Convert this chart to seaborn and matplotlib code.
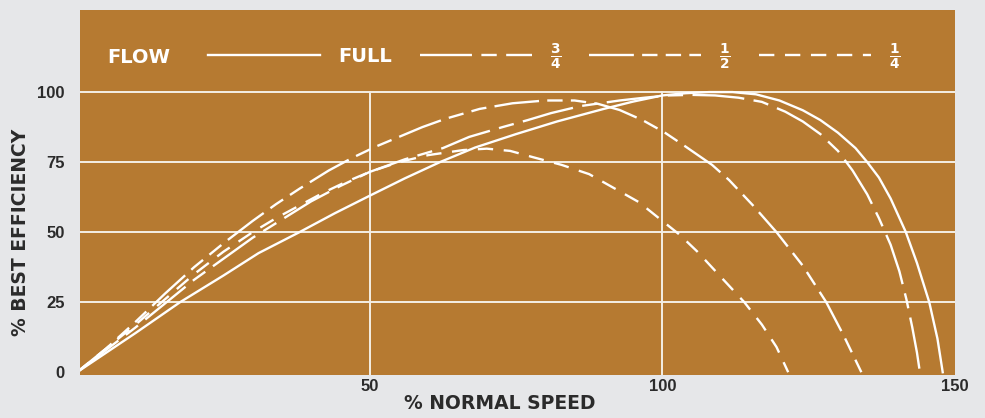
import matplotlib
matplotlib.use('Agg')
import matplotlib.pyplot as plt
from matplotlib.lines import Line2D
import pandas as pd
import seaborn as sns

# %%
# curve data (% normal speed vs % best efficiency)

flows = ['full', '3/4', '1/2', '1/4']
flow_labels = ['FULL', r'$\frac{\mathbf{3}}{\mathbf{4}}$',
               r'$\frac{\mathbf{1}}{\mathbf{2}}$', r'$\frac{\mathbf{1}}{\mathbf{4}}$']

full_x = [0, 5, 10, 17.6, 25, 31, 38, 44, 50, 56, 62, 68, 75, 82, 90, 95, 100, 104,
          108, 112, 116, 120, 124, 127, 130, 133, 135, 137, 139, 141.6, 143.5, 145.6,
          147, 147.9]
full_y = [0, 7, 14, 25, 34.5, 42.5, 50, 56.7, 63, 69.2, 75, 80.2, 85, 89.5, 94, 96.6,
          98.8, 99.6, 100, 100, 99.2, 97, 93.5, 90, 85.5, 80, 75, 69.5, 62, 50, 39, 25,
          12, 0]

q3_x = [0, 5, 10, 15, 20, 25, 30, 35, 40, 45, 50, 56, 62.5, 67, 72.7, 77, 81, 86, 92.7,
        97, 101, 105, 109, 113, 117, 121, 124, 127, 130, 132.5, 135, 137, 139, 140.5,
        141.7, 142.7, 143.5, 144]
q3_y = [0, 8, 16, 24.5, 33, 40.5, 48, 54.5, 61, 66.5, 71.5, 76, 80, 84, 87.5, 90, 92.5,
        95, 97, 98, 98.8, 99, 98.8, 98, 96.5, 93, 89.5, 85, 79, 72, 63.5, 55, 45.5, 36,
        26, 16, 7, 0]

half_x = [0, 5, 10, 15, 20, 25, 30, 34, 38, 43, 47, 51, 55, 59, 63, 68.8, 74.4, 80, 85,
          89, 92.7, 96.6, 100.3, 104, 108.5, 111.4, 115.5, 119.5, 124, 128, 131, 134]
half_y = [0, 8.5, 18, 28, 37.5, 46, 54, 60, 65.5, 72, 76.5, 80.5, 84, 87.5, 90.5, 94, 96,
          97, 97, 95.8, 93.6, 90, 85.7, 80.5, 74, 68.6, 59.5, 50, 38, 25, 13, 0]

q1_x = [0, 5, 10, 15, 20, 25, 30, 34, 38, 42, 46, 50, 55, 60, 66, 70, 74, 78, 82.8,
        87.5, 91.5, 96, 100, 103, 106, 110, 114, 117, 119.5, 121.5]
q1_y = [0, 8.5, 17, 26, 35, 43, 50, 55, 59.5, 64, 68, 71.5, 75, 77.5, 79.3, 79.8, 79,
        76.7, 74, 70.7, 66, 60.7, 54, 49, 43, 34, 25, 17, 9, 0]

x_ticks = [50, 100, 150]
y_ticks = [0, 25, 50, 75, 100]

# %%
# styling

bg = '#e6e7e9'
panel = '#b67a31'
ink = '#2b2b2b'
lw = 1.7
dash_map = {'full': '', '3/4': (22, 4, 6.5, 4), '1/2': (19, 3.5, 6.5, 3.5, 6.5, 3.5),
            '1/4': (6.5, 4.5)}
y_lo, y_hi = -1.0, 129.3

df = pd.concat([
    pd.DataFrame({'speed': full_x, 'efficiency': full_y, 'flow': 'full'}),
    pd.DataFrame({'speed': q3_x, 'efficiency': q3_y, 'flow': '3/4'}),
    pd.DataFrame({'speed': half_x, 'efficiency': half_y, 'flow': '1/2'}),
    pd.DataFrame({'speed': q1_x, 'efficiency': q1_y, 'flow': '1/4'}),
], ignore_index=True)

fig = plt.figure(figsize=(9.85, 4.18), dpi=100, facecolor=bg)
ax = fig.add_axes([80 / 985, 43 / 418, 875 / 985, 365 / 418])
ax.set_facecolor(panel)
for s in ax.spines.values():
    s.set_visible(False)

# grid
for y in y_ticks[1:]:
    ax.axhline(y, color='#f4efe4', lw=1.4, zorder=1)
for x in x_ticks[:-1]:
    ax.axvline(x, ymin=0, ymax=(100 - y_lo) / (y_hi - y_lo), color='#f4efe4', lw=1.4, zorder=1)

sns.lineplot(data=df, x='speed', y='efficiency', style='flow', style_order=flows,
             dashes=dash_map, color='white', linewidth=lw, sort=False, estimator=None,
             legend=False, ax=ax, zorder=3)

ax.set_xlim(0.5, 150)
ax.set_ylim(y_lo, y_hi)
ax.set_xticks(x_ticks)
ax.set_yticks(y_ticks)
ax.tick_params(length=0, labelcolor=ink, labelsize=12)
ax.tick_params(axis='y', pad=11)
ax.tick_params(axis='x', pad=3)
plt.setp(ax.get_xticklabels() + ax.get_yticklabels(), fontweight='bold',
         family='Liberation Sans')

ax.set_xlabel('% NORMAL SPEED', fontsize=13.5, fontweight='bold', color=ink)
ax.set_ylabel('% BEST EFFICIENCY', fontsize=13.5, fontweight='bold', color=ink)
ax.xaxis.set_label_coords(0.48, -0.052)
ax.yaxis.set_label_coords(-0.057, 0.39)

# legend strip at top of panel
ax.text(27 / 875, 0.870, 'FLOW', transform=ax.transAxes, color='white',
        fontsize=14, fontweight='bold', va='center', ha='left')
handles = [Line2D([], [], color='white', lw=lw)]
handles += [Line2D([], [], color='white', lw=lw, dashes=dash_map[f]) for f in flows[1:]]
ax.legend(handles, flow_labels, ncol=4, frameon=False, loc='center left',
          bbox_to_anchor=(128 / 875, 0.872), borderpad=0, borderaxespad=0,
          handlelength=5.76, handletextpad=0.93, columnspacing=1.44,
          prop={'size': 14, 'weight': 'bold'}, labelcolor='white')

plt.savefig('out.png', dpi=100, facecolor=bg)
